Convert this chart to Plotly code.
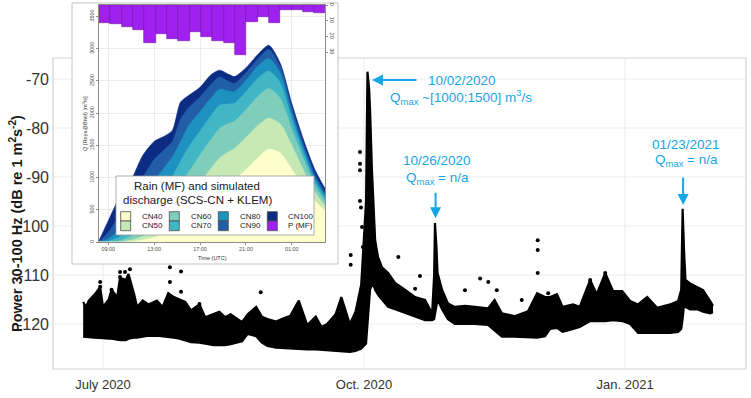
import plotly.graph_objects as go

W, H = 751, 398

# ---------------- main panel: 30-100 Hz seismic power (envelope of the dense point cloud) ----------------
band_dates = [
    "2020-06-24", "2020-06-25", "2020-06-26", "2020-06-28", "2020-06-30", "2020-07-01", "2020-07-03",
    "2020-07-04", "2020-07-06", "2020-07-07", "2020-07-09", "2020-07-10", "2020-07-12", "2020-07-13",
    "2020-07-15", "2020-07-17", "2020-07-20", "2020-07-22", "2020-07-24", "2020-07-26", "2020-07-28",
    "2020-07-30", "2020-08-01", "2020-08-04", "2020-08-06", "2020-08-09", "2020-08-11", "2020-08-13",
    "2020-08-15", "2020-08-19", "2020-08-21", "2020-08-24", "2020-08-26", "2020-08-28", "2020-08-31",
    "2020-09-02", "2020-09-05", "2020-09-08", "2020-09-11", "2020-09-14", "2020-09-16", "2020-09-18",
    "2020-09-21", "2020-09-23", "2020-09-25", "2020-09-26", "2020-09-28", "2020-09-30",
    "2020-10-01T17:00", "2020-10-02T05:00", "2020-10-02T19:00", "2020-10-03T03:00", "2020-10-03T19:00",
    "2020-10-04T07:00", "2020-10-04T22:00", "2020-10-05T22:00", "2020-10-07T07:00", "2020-10-09T12:00",
    "2020-10-11T22:00", "2020-10-15T10:00", "2020-10-19", "2020-10-22T12:00", "2020-10-25",
    "2020-10-25T17:00", "2020-10-26", "2020-10-26T12:00", "2020-10-26T22:00", "2020-10-28T12:00",
    "2020-10-30T14:00", "2020-11-02", "2020-11-05T14:00", "2020-11-09", "2020-11-13T17:00",
    "2020-11-16", "2020-11-18T14:00", "2020-11-23", "2020-11-27T19:00", "2020-12-01",
    "2020-12-03T19:00", "2020-12-05T14:00", "2020-12-08", "2020-12-10", "2020-12-13T17:00",
    "2020-12-16", "2020-12-19T17:00", "2020-12-22", "2020-12-25", "2020-12-27T19:00", "2020-12-31",
    "2021-01-02T19:00", "2021-01-05T14:00", "2021-01-08T19:00", "2021-01-12T07:00", "2021-01-16T22:00",
    "2021-01-19T17:00", "2021-01-20T19:00", "2021-01-21T07:00", "2021-01-21T19:00", "2021-01-22T07:00",
    "2021-01-23T22:00", "2021-01-26T10:00", "2021-01-28T12:00", "2021-01-31", "2021-02-01",
]
band_low = [
    -122.6, -122.7, -122.7, -122.8, -122.8, -122.9, -123.0,
    -123.0, -123.2, -123.3, -123.3, -123.0, -122.8, -122.8,
    -122.6, -122.4, -122.4, -122.5, -122.6, -122.8, -123.0,
    -123.4, -123.7, -123.8, -124.0, -124.3, -124.3, -124.3,
    -124.1, -123.5, -122.0, -122.5, -123.8, -124.5, -124.8,
    -124.9, -125.0, -125.1, -125.2, -125.2, -125.3, -125.4,
    -125.5, -125.6, -125.7, -125.7, -125.5, -125.0,
    -124.0, -120.0, -115.0, -113.0, -112.0,
    -112.0, -113.0, -114.0, -115.0, -116.5,
    -117.0, -117.7, -118.5, -119.2, -119.2,
    -119.0, -118.0, -116.0, -115.0, -117.0,
    -119.0, -120.0, -120.0, -120.0, -120.2,
    -121.3, -122.6, -122.6, -122.8, -122.8,
    -122.5, -121.0, -120.8, -121.6, -121.0,
    -120.6, -119.4, -119.4, -119.4, -119.2, -119.4,
    -120.0, -121.8, -121.8, -121.8, -121.8,
    -121.6, -121.0, -119.0, -116.0, -116.5,
    -117.0, -117.0, -117.5, -117.8, -117.6,
]
band_high = [
    -115.5, -116.5, -115.2, -114.0, -112.5, -116.5, -115.0,
    -113.0, -114.5, -110.5, -111.0, -109.8, -114.0, -116.5,
    -115.2, -116.0, -115.2, -116.5, -113.7, -114.5, -115.0,
    -115.5, -117.2, -116.0, -118.6, -118.0, -117.5, -118.6,
    -118.0, -119.6, -118.0, -116.5, -118.5, -119.0, -119.5,
    -119.0, -118.3, -115.2, -120.2, -118.5, -120.6, -120.0,
    -118.0, -114.5, -118.5, -120.0, -117.5, -112.0,
    -95.0, -68.5, -72.0, -76.3, -88.6,
    -96.7, -102.9, -106.3, -108.4, -109.6,
    -111.6, -113.0, -114.5, -115.1, -117.8,
    -110.0, -99.4, -104.0, -109.6, -113.0,
    -115.8, -116.5, -116.3, -116.5, -116.8,
    -115.1, -117.8, -118.4, -117.4, -113.7,
    -114.5, -114.5, -113.9, -116.5, -116.0,
    -116.5, -111.0, -113.9, -109.6, -113.3, -113.3,
    -115.3, -116.0, -114.5, -116.7, -116.0,
    -115.3, -113.0, -96.5, -105.0, -111.0,
    -111.7, -112.5, -113.1, -115.3, -116.3,
]

# isolated points standing out of the cloud
dot_dates = [
    "2020-06-30", "2020-06-30", "2020-07-04", "2020-07-07", "2020-07-07", "2020-07-08T18:00",
    "2020-07-10T12:00", "2020-07-24T14:00", "2020-07-24T14:00", "2020-07-28T12:00", "2020-07-28T12:00",
    "2020-08-04", "2020-08-25T14:00", "2020-09-26T07:00", "2020-09-26T07:00",
    "2020-09-29T14:00", "2020-09-29T14:00", "2020-09-29T14:00", "2020-09-29T14:00", "2020-09-29T22:00",
    "2020-09-30T07:00", "2020-09-30T14:00",
    "2020-10-13T02:00", "2020-10-19", "2020-10-20T17:00", "2020-11-05T14:00", "2020-11-10T22:00",
    "2020-11-13T19:00", "2020-11-16T19:00", "2020-11-25T14:00", "2020-12-01T05:00", "2020-12-01T05:00",
    "2020-12-01T05:00", "2020-12-04T22:00", "2020-12-19T17:00", "2020-12-25",
]
dot_values = [
    -111.4, -112.4, -113.0, -109.4, -110.4, -109.4,
    -108.8, -108.4, -111.4, -109.3, -113.4,
    -115.9, -113.5, -105.9, -107.9,
    -84.9, -87.3, -88.6, -94.9, -96.2,
    -100.2, -104.3,
    -106.3, -112.8, -110.2, -113.1, -110.7,
    -111.4, -113.1, -115.1, -102.9, -104.9,
    -109.6, -113.7, -111.0, -109.6,
]

main_tickvals = ["2020-07-01", "2020-10-01", "2021-01-01"]
main_ticktext = ["July 2020", "Oct. 2020", "Jan. 2021"]
main_yticks = [-120, -110, -100, -90, -80, -70]
main_yticktext = ["-120", "-110", "-100", "-90", "-80", "-70"]

# ---------------- inset: rain (MF) and simulated discharge (SCS-CN + KLEM) ----------------
inset_hours = [8.19, 9, 10, 11, 12, 13, 14, 14.6, 15.3, 16, 17, 18, 18.7, 19.5, 20, 21, 22, 23, 24, 25, 26, 27, 27.9]
q_cn100 = [20, 330, 700, 960, 1340, 1560, 1650, 1734, 2170, 2270, 2400, 2600, 2665, 2600, 2565, 2700, 2900, 3050, 2770, 2150, 1600, 1130, 830]
q_cn90 = [0, 150, 420, 700, 1000, 1280, 1450, 1560, 1900, 2080, 2250, 2450, 2560, 2490, 2460, 2620, 2830, 2985, 2720, 2080, 1530, 1060, 770]
q_cn80 = [0, 50, 200, 420, 680, 950, 1180, 1320, 1560, 1800, 2020, 2240, 2370, 2340, 2330, 2500, 2720, 2850, 2620, 2000, 1460, 1000, 720]
q_cn70 = [0, 10, 80, 220, 420, 650, 880, 1020, 1250, 1470, 1720, 1970, 2120, 2140, 2150, 2330, 2530, 2650, 2470, 1900, 1390, 950, 680]
q_cn60 = [0, 0, 20, 90, 220, 380, 580, 710, 900, 1080, 1350, 1600, 1760, 1840, 1870, 2050, 2250, 2380, 2230, 1750, 1300, 880, 630]
q_cn50 = [0, 0, 0, 30, 90, 180, 320, 420, 560, 700, 920, 1150, 1300, 1400, 1450, 1620, 1800, 1920, 1830, 1500, 1120, 780, 560]
q_cn40 = [0, 0, 0, 5, 30, 70, 140, 190, 270, 360, 510, 680, 800, 900, 960, 1120, 1300, 1440, 1380, 1130, 860, 640, 490]

cn_labels = ["CN100", "CN90", "CN80", "CN70", "CN60", "CN50", "CN40"]
cn_colors = ["#0c2c84", "#225ea8", "#1d91c0", "#41b6c4", "#7fcdbb", "#c7e9b4", "#ffffcc"]
cn_series = [q_cn100, q_cn90, q_cn80, q_cn70, q_cn60, q_cn50, q_cn40]

rain_hours = [8.69, 9.68, 10.66, 11.65, 12.64, 13.63, 14.61, 15.60, 16.59, 17.58,
              18.56, 19.55, 20.54, 21.53, 22.51, 23.50, 24.49, 25.48, 26.46, 27.45]
rain_mm = [11.7, 12.3, 13.8, 16.0, 24.4, 18.5, 21.7, 23.0, 17.0, 20.6,
           22.9, 24.4, 31.8, 11.0, 7.9, 11.7, 3.2, 3.2, 4.2, 4.9]

inset_tickvals = [9, 13, 17, 21, 25]
inset_ticktext = ["09:00", "13:00", "17:00", "21:00", "01:00"]
q_ticks = [0, 500, 1000, 1500, 2000, 2500, 3000, 3500]
rain_ticks = [0, 10, 20, 30]

legend_cols = [["CN40", "CN50"], ["CN60", "CN70"], ["CN80", "CN90"], ["CN100", "P (MF)"]]
legend_colors = [["#ffffcc", "#c7e9b4"], ["#7fcdbb", "#41b6c4"], ["#1d91c0", "#225ea8"], ["#0c2c84", "#a020f0"]]

BLUE = "#16a6e6"
FONT = "Liberation Sans, Arial, sans-serif"


def px(x):
    return x / W


def py(y):
    return 1 - y / H


fig = go.Figure()

# main cloud
fig.add_trace(go.Scatter(x=band_dates, y=band_low, mode="lines",
                         line=dict(color="black", width=2.2), hoverinfo="skip", showlegend=False))
fig.add_trace(go.Scatter(x=band_dates, y=band_high, mode="lines", fill="tonexty", fillcolor="black",
                         line=dict(color="black", width=2.2), hoverinfo="skip", showlegend=False))
fig.add_trace(go.Scatter(x=dot_dates, y=dot_values, mode="markers",
                         marker=dict(color="black", size=4), hoverinfo="skip", showlegend=False))

# inset discharge areas
for name, col, q in zip(cn_labels, cn_colors, cn_series):
    fig.add_trace(go.Scatter(x=inset_hours, y=q, xaxis="x2", yaxis="y2", mode="lines",
                             line=dict(color=col, width=0.6, shape="spline", smoothing=0.7),
                             fill="tozeroy", fillcolor=col, name=name, showlegend=False))
# inset rain bars
fig.add_trace(go.Bar(x=rain_hours, y=rain_mm, xaxis="x2", yaxis="y3", width=0.98,
                     marker=dict(color="#a020f0", line=dict(color="#6c13a8", width=0.6)),
                     name="P (MF)", showlegend=False))

shapes = []
for v in main_yticks:
    shapes.append(dict(type="line", xref="x domain", yref="y", x0=0, x1=1, y0=v, y1=v,
                       line=dict(color="#ececec", width=1), layer="below"))
for d in main_tickvals:
    shapes.append(dict(type="line", xref="x", yref="y domain", x0=d, x1=d, y0=0, y1=1,
                       line=dict(color="#ececec", width=1), layer="below"))
shapes.append(dict(type="rect", xref="x domain", yref="y domain", x0=0, x1=1, y0=0, y1=1,
                   line=dict(color="#d2d2d2", width=1.2), fillcolor="rgba(0,0,0,0)", layer="below"))
# inset white card
shapes.append(dict(type="rect", xref="paper", yref="paper", x0=px(72), x1=px(338), y0=py(264), y1=py(3),
                   line=dict(color="#c4c4c4", width=1), fillcolor="white", layer="below"))
# inset legend box
shapes.append(dict(type="rect", xref="paper", yref="paper", x0=px(116), x1=px(314), y0=py(235), y1=py(176),
                   line=dict(color="#9a9a9a", width=0.8), fillcolor="white", layer="above"))

annotations = []
sw_x = [120.7, 169.3, 218.3, 267.3]
lab_x = [140, 189, 238, 286]
rows_y = [(211.7, 221.0), (221.0, 230.7)]
for c in range(4):
    for r in range(2):
        shapes.append(dict(type="rect", xref="paper", yref="paper",
                           x0=px(sw_x[c]), x1=px(sw_x[c] + 10), y0=py(rows_y[r][1]), y1=py(rows_y[r][0]),
                           fillcolor=legend_colors[c][r], line=dict(color="#4d4d4d", width=0.8), layer="above"))
        annotations.append(dict(xref="paper", yref="paper", x=px(lab_x[c]), y=py((rows_y[r][0] + rows_y[r][1]) / 2),
                                text=legend_cols[c][r], showarrow=False, xanchor="left", yanchor="middle",
                                font=dict(family=FONT, size=8, color="#1a1a1a")))
annotations.append(dict(xref="paper", yref="paper", x=px(197), y=py(186), text="Rain (MF) and simulated",
                        showarrow=False, xanchor="center", yanchor="middle",
                        font=dict(family=FONT, size=11.5, color="#1a1a1a")))
annotations.append(dict(xref="paper", yref="paper", x=px(197), y=py(200), text="discharge (SCS-CN + KLEM)",
                        showarrow=False, xanchor="center", yanchor="middle",
                        font=dict(family=FONT, size=11.5, color="#1a1a1a")))
# inset axis titles
annotations.append(dict(xref="paper", yref="paper", x=px(212), y=py(258), text="Time (UTC)",
                        showarrow=False, xanchor="center", yanchor="middle",
                        font=dict(family=FONT, size=5.5, color="#333333")))
annotations.append(dict(xref="paper", yref="paper", x=px(85), y=py(124),
                        text="Q (Roya@Breil) [m<sup>3</sup>/s]", textangle=-90,
                        showarrow=False, xanchor="center", yanchor="middle",
                        font=dict(family=FONT, size=5.5, color="#333333")))

# main y title
annotations.append(dict(xref="paper", yref="paper", x=px(16), y=py(224),
                        text="<b>Power 30-100 Hz (dB re 1 m<sup>2</sup>s<sup>-2</sup>)</b>", textangle=-90,
                        showarrow=False, xanchor="center", yanchor="middle",
                        font=dict(family=FONT, size=14.5, color="#1a1a1a")))

# event labels
ev_font = dict(family=FONT, size=13.5, color=BLUE)
for x0, y0, txt in [(462, 80, "10/02/2020"),
                    (461, 97, "Q<sub>max</sub> ~[1000;1500] m<sup>3</sup>/s"),
                    (437, 161, "10/26/2020"),
                    (437, 178, "Q<sub>max</sub> = n/a"),
                    (686, 144, "01/23/2021"),
                    (686, 161, "Q<sub>max</sub> = n/a")]:
    annotations.append(dict(xref="paper", yref="paper", x=px(x0), y=py(y0), text=txt, showarrow=False,
                            xanchor="center", yanchor="middle", font=ev_font))
# arrows
for hx, hy, ax, ay in [("2020-10-03T19:00", -70.2, 46, 0),
                       ("2020-10-26T05:00", -98.4, 0, -27),
                       ("2021-01-21T11:00", -95.7, 0, -29)]:
    annotations.append(dict(xref="x", yref="y", x=hx, y=hy, ax=ax, ay=ay, axref="pixel", ayref="pixel",
                            text="", showarrow=True, arrowhead=2, arrowsize=1.1, arrowwidth=2,
                            arrowcolor=BLUE))

fig.update_layout(
    width=W, height=H,
    margin=dict(l=0, r=0, t=0, b=0),
    paper_bgcolor="white", plot_bgcolor="white",
    font=dict(family=FONT),
    showlegend=False,
    bargap=0,
    shapes=shapes,
    annotations=annotations,
    xaxis=dict(domain=[px(53), px(746)], type="date",
               range=["2020-06-13T09:00", "2021-02-12T15:00"],
               tickvals=main_tickvals, ticktext=main_ticktext, showgrid=False, zeroline=False,
               showline=False, ticks="", ticklen=0, ticklabelstandoff=6,
               tickfont=dict(size=13, color="#333333", family=FONT), automargin=False),
    yaxis=dict(domain=[py(369), py(58)], range=[-129.18, -65.71],
               tickvals=main_yticks, ticktext=main_yticktext,
               showgrid=False, zeroline=False, showline=False, ticks="", ticklen=0,
               ticklabelstandoff=3,
               tickfont=dict(size=16, color="#333333", family=FONT), automargin=False),
    xaxis2=dict(domain=[px(99), px(325)], anchor="y2", range=[8.19, 27.9],
                tickvals=inset_tickvals, ticktext=inset_ticktext,
                showgrid=True, gridcolor="#ebebeb", gridwidth=0.6, zeroline=False,
                showline=True, linecolor="#8c8c8c", linewidth=0.7, mirror=True,
                ticks="outside", ticklen=2, tickcolor="#8c8c8c", tickwidth=0.6,
                tickfont=dict(size=5.5, color="#4d4d4d", family=FONT), automargin=False),
    yaxis2=dict(domain=[py(242), py(5)], anchor="x2", range=[0, 3675], tickvals=q_ticks,
                showgrid=True, gridcolor="#ebebeb", gridwidth=0.6, zeroline=False,
                showline=True, linecolor="#8c8c8c", linewidth=0.7, mirror=True,
                ticks="outside", ticklen=2, tickcolor="#8c8c8c", tickwidth=0.6, tickangle=-90,
                tickfont=dict(size=5.5, color="#4d4d4d", family=FONT), automargin=False),
    yaxis3=dict(overlaying="y2", anchor="x2", side="right", range=[150.6, 0], tickvals=rain_ticks,
                showgrid=False, zeroline=False, showline=False,
                ticks="outside", ticklen=2, tickcolor="#8c8c8c", tickwidth=0.6, tickangle=90,
                tickfont=dict(size=5.5, color="#4d4d4d", family=FONT), automargin=False),
)

fig.write_html("out.html", config={"displayModeBar": False},
               post_script="document.body.style.margin='0px'; document.body.style.overflow='hidden';")
